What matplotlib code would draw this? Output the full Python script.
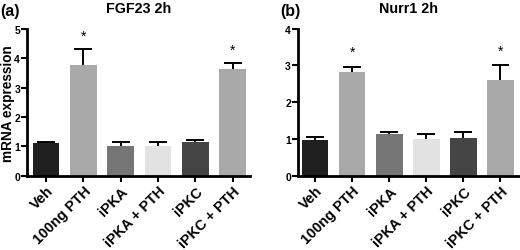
import matplotlib
matplotlib.use('Agg')
import numpy as np
import matplotlib.pyplot as plt

plt.rcParams['font.family'] = ['Liberation Sans', 'DejaVu Sans']
plt.rcParams['font.weight'] = 'bold'

groups = ['Veh', '100ng PTH', 'iPKA', 'iPKA + PTH', 'iPKC', 'iPKC + PTH']
colors = ['#202020', '#a9a9a9', '#767676', '#e2e2e2', '#454545', '#a9a9a9']

fgf23_mean = [1.12, 3.75, 1.02, 1.00, 1.15, 3.62]
fgf23_err = [0.03, 0.57, 0.12, 0.15, 0.08, 0.22]
fgf23_sig = [False, True, False, False, False, True]

nurr1_mean = [0.98, 2.83, 1.15, 1.00, 1.03, 2.60]
nurr1_err = [0.07, 0.14, 0.03, 0.14, 0.17, 0.40]
nurr1_sig = [False, True, False, False, False, True]


def draw_panel(ax, mean, err, sig, ymax, title, star_gap):
    x = np.arange(len(groups))
    mean = np.array(mean)
    err = np.array(err)
    ax.bar(x, mean, width=0.72, color=colors, zorder=2)
    # upper error bar only, GraphPad style
    ax.vlines(x, mean, mean + err, colors='black', linewidth=1.4, zorder=3)
    ax.hlines(mean + err, x - 0.24, x + 0.24, colors='black', linewidth=1.4, zorder=3)
    for i in range(len(x)):
        if sig[i]:
            ax.text(x[i], mean[i] + err[i] + star_gap, '*', ha='center', va='center',
                    fontsize=10, fontweight='normal')
    ax.set_ylim(0, ymax)
    ax.set_yticks(range(0, ymax + 1))
    ax.set_xticks(x)
    ax.set_xticklabels(groups, rotation=45, ha='right', rotation_mode='anchor', fontsize=10.4)
    ax.spines['top'].set_visible(False)
    ax.spines['right'].set_visible(False)
    ax.spines['left'].set_linewidth(2)
    ax.spines['bottom'].set_linewidth(2)
    ax.tick_params(axis='both', width=1.5, length=4, direction='out')
    ax.tick_params(axis='y', labelsize=7.5, pad=1)
    ax.tick_params(axis='x', pad=1.5)
    ax.set_title(title, fontsize=10.3, fontweight='bold', pad=12)
    return ax


fig = plt.figure(figsize=(5.2, 2.51), dpi=100)

ax1 = fig.add_axes([0.052, 0.295, 0.429, 0.587])
draw_panel(ax1, fgf23_mean, fgf23_err, fgf23_sig, 5, 'FGF23 2h', 0.45)
ax1.set_xlim(-0.51, 5.47)
ax1.set_ylabel('mRNA expression', fontsize=9.8, fontweight='bold')
ax1.yaxis.set_label_coords(-0.052, 0.5)
fig.text(0.0, 0.955, '(a)', fontsize=11.5, fontweight='bold', va='center')

ax2 = fig.add_axes([0.573, 0.295, 0.425, 0.587])
draw_panel(ax2, nurr1_mean, nurr1_err, nurr1_sig, 4, 'Nurr1 2h', 0.4)
ax2.set_xlim(-0.46, 5.5)
fig.text(0.538, 0.955, '(b)', fontsize=11.5, fontweight='bold', va='center')

fig.savefig('out.png', dpi=100)
